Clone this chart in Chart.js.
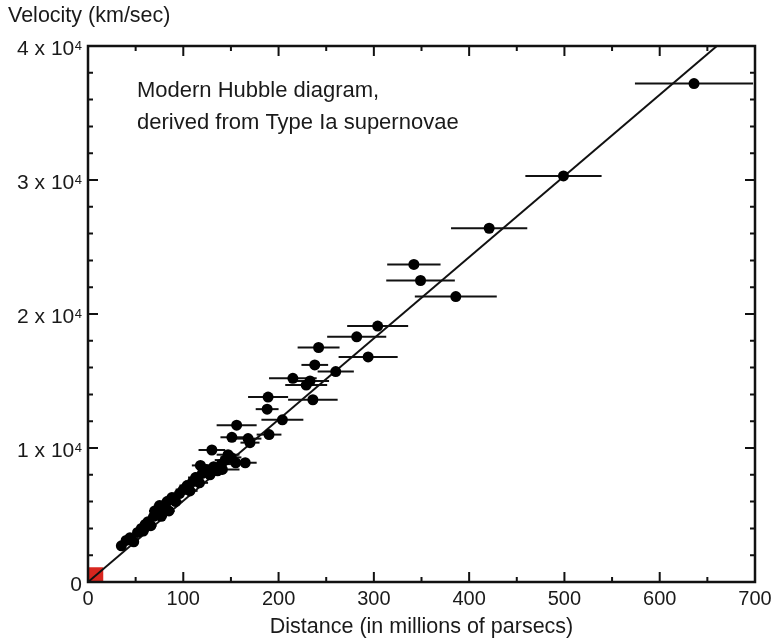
<!DOCTYPE html>
<html>
<head>
<meta charset="utf-8">
<title>Modern Hubble diagram</title>
<script src="https://cdn.jsdelivr.net/npm/chart.js@4/dist/chart.umd.min.js"></script>
<style>
  html, body { margin: 0; padding: 0; background: #ffffff; }
  #wrap { width: 775px; height: 640px; position: relative; }
</style>
</head>
<body>
<div id="wrap"><canvas id="hubble" width="775" height="640"></canvas></div>
<script>
// Type Ia supernovae: distance (Mpc), recession velocity (km/s), distance uncertainty (Mpc)
const distances = [
  636, 499, 421, 342, 349, 386, 304, 282, 242, 294,
  238, 260, 215, 233, 229, 189, 236, 188, 204, 156,
  151, 168, 190, 170, 130, 147, 165,
  35, 40, 44, 48, 52, 56, 60, 63, 66, 69,
  70, 73, 77, 80, 83, 85, 88, 92, 96, 100,
  104, 107, 110, 113, 117, 120, 124, 128, 132, 136,
  140, 144, 150, 155, 58, 75, 118, 141
];
const velocities = [
  37200, 30300, 26400, 23700, 22500, 21300, 19100, 18300, 17500, 16800,
  16200, 15700, 15200, 15000, 14700, 13800, 13600, 12900, 12100, 11700,
  10800, 10700, 11000, 10400, 9850, 9500, 8900,
  2700, 3100, 3300, 3000, 3700, 4000, 4300, 4500, 4200, 4900,
  5300, 5100, 4900, 5600, 6000, 5300, 6300, 6000, 6600, 6900,
  7200, 6800, 7500, 7800, 7400, 8100, 8400, 8000, 8600, 8300,
  8800, 9100, 9300, 8900, 3800, 5700, 8700, 8400
];
const distErrors = [
  62, 40, 40, 28, 36, 43, 32, 31, 22, 31,
  14, 19, 25, 20, 22, 21, 26, 12, 22, 21,
  12, 14, 13, 10, 14, 12, 12,
  4, 4, 4, 5, 5, 5, 5, 5, 6, 6,
  6, 6, 6, 6, 7, 6, 7, 7, 7, 8,
  8, 8, 8, 8, 9, 9, 9, 9, 10, 10,
  10, 11, 11, 12, 5, 6, 9, 18
];

// Best-fit Hubble law through the origin
const fitDistances = [0, 660];
const fitVelocities = [0, 40000];

// Region covered by Hubble's original 1929 sample
const earlyDistanceMax = 16;
const earlyVelocityMax = 1100;

// Axis ticks
const xTickValues = [0, 100, 200, 300, 400, 500, 600, 700];
const xTickLabels = ['0', '100', '200', '300', '400', '500', '600', '700'];
const xMinorValues = [50, 150, 250, 350, 450, 550, 650];
const yTickValues = [0, 10000, 20000, 30000, 40000];
const yTickMantissa = ['0', '1 x 10', '2 x 10', '3 x 10', '4 x 10'];
const yTickExponent = ['', '4', '4', '4', '4'];
const yMinorValues = [2000, 4000, 6000, 8000, 12000, 14000, 16000, 18000,
                      22000, 24000, 26000, 28000, 32000, 34000, 36000, 38000];

const noteLines = ['Modern Hubble diagram,', 'derived from Type Ia supernovae'];

const FONT = "'Liberation Sans', Arial, Helvetica, sans-serif";

const supernovae = distances.map((d, i) => ({ x: d, y: velocities[i], err: distErrors[i] }));
const fit = fitDistances.map((d, i) => ({ x: d, y: fitVelocities[i] }));

// Horizontal distance error bars and the early-sample box, drawn under the markers
const underlay = {
  id: 'underlay',
  beforeDatasetsDraw(chart) {
    const { ctx, chartArea: a, scales: { x, y } } = chart;
    ctx.save();
    ctx.beginPath();
    ctx.rect(a.left, a.top, a.right - a.left, a.bottom - a.top);
    ctx.clip();

    ctx.fillStyle = '#d8261f';
    const bx0 = x.getPixelForValue(0), bx1 = x.getPixelForValue(earlyDistanceMax);
    const by0 = y.getPixelForValue(0), by1 = y.getPixelForValue(earlyVelocityMax);
    ctx.fillRect(bx0, by1, bx1 - bx0, by0 - by1);

    ctx.strokeStyle = '#111111';
    ctx.lineWidth = 2;
    supernovae.forEach(p => {
      const py = y.getPixelForValue(p.y);
      ctx.beginPath();
      ctx.moveTo(x.getPixelForValue(p.x - p.err), py);
      ctx.lineTo(x.getPixelForValue(p.x + p.err), py);
      ctx.stroke();
    });
    ctx.restore();
  }
};

// Box frame with inward ticks on all four sides, tick labels, titles and the note
const frame = {
  id: 'frame',
  afterDraw(chart) {
    const { ctx, chartArea: a, scales: { x, y } } = chart;
    ctx.save();
    ctx.strokeStyle = '#111111';
    ctx.lineWidth = 2.5;
    ctx.strokeRect(a.left, a.top, a.right - a.left, a.bottom - a.top);

    ctx.lineWidth = 2;
    const tickX = (v, len) => {
      const px = x.getPixelForValue(v);
      ctx.beginPath();
      ctx.moveTo(px, a.bottom); ctx.lineTo(px, a.bottom - len);
      ctx.moveTo(px, a.top); ctx.lineTo(px, a.top + len);
      ctx.stroke();
    };
    const tickY = (v, len) => {
      const py = y.getPixelForValue(v);
      ctx.beginPath();
      ctx.moveTo(a.left, py); ctx.lineTo(a.left + len, py);
      ctx.moveTo(a.right, py); ctx.lineTo(a.right - len, py);
      ctx.stroke();
    };
    xTickValues.forEach(v => tickX(v, 10));
    xMinorValues.forEach(v => tickX(v, 5));
    yTickValues.forEach(v => tickY(v, 10));
    yMinorValues.forEach(v => tickY(v, 5));

    ctx.fillStyle = '#1a1a1a';
    ctx.textBaseline = 'alphabetic';

    // x tick labels
    ctx.font = '20px ' + FONT;
    ctx.textAlign = 'center';
    xTickValues.forEach((v, i) => {
      ctx.fillText(xTickLabels[i], x.getPixelForValue(v), a.bottom + 23);
    });

    // y tick labels with power-of-ten exponent
    ctx.textAlign = 'right';
    const labelRight = a.left - 6;
    yTickValues.forEach((v, i) => {
      const py = y.getPixelForValue(v);
      let right = labelRight;
      if (yTickExponent[i]) {
        ctx.font = '13px ' + FONT;
        ctx.fillText(yTickExponent[i], right, py + 4);
        right -= ctx.measureText(yTickExponent[i]).width + 0.5;
      }
      ctx.font = '21px ' + FONT;
      ctx.fillText(yTickMantissa[i], right, py + 9);
    });

    // axis titles
    ctx.font = '21.5px ' + FONT;
    ctx.textAlign = 'left';
    ctx.fillText('Velocity (km/sec)', 8, 22);
    ctx.textAlign = 'center';
    ctx.fillText('Distance (in millions of parsecs)', (a.left + a.right) / 2, 633);

    // note inside the plot
    ctx.font = '22px ' + FONT;
    ctx.textAlign = 'left';
    ctx.fillText(noteLines[0], 137, 97);
    ctx.fillText(noteLines[1], 137, 129);
    ctx.restore();
  }
};

new Chart(document.getElementById('hubble'), {
  type: 'scatter',
  data: {
    datasets: [
      {
        label: 'Hubble law',
        type: 'line',
        data: fit,
        borderColor: '#111111',
        borderWidth: 2,
        pointRadius: 0,
        fill: false,
        order: 2
      },
      {
        label: 'Type Ia supernovae',
        data: supernovae,
        backgroundColor: '#000000',
        borderWidth: 0,
        pointRadius: 5.5,
        pointHoverRadius: 5.5,
        order: 1
      }
    ]
  },
  options: {
    responsive: false,
    devicePixelRatio: 1,
    animation: false,
    events: [],
    layout: { padding: { left: 88, right: 20, top: 46, bottom: 58 } },
    scales: {
      x: { type: 'linear', min: 0, max: 700, display: false },
      y: { type: 'linear', min: 0, max: 40000, display: false }
    },
    plugins: { legend: { display: false }, tooltip: { enabled: false } }
  },
  plugins: [underlay, frame]
});
</script>
</body>
</html>
